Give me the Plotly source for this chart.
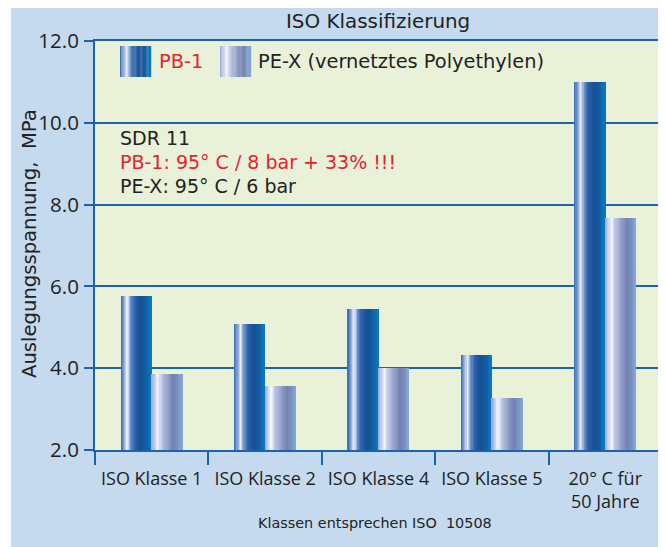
import plotly.graph_objects as go

# ---------------- data ----------------
categories = ["ISO Klasse 1", "ISO Klasse 2", "ISO Klasse 4", "ISO Klasse 5", "20° C für<br>50 Jahre"]
pb1_values = [5.77, 5.08, 5.45, 4.32, 11.0]
pex_values = [3.86, 3.57, 4.00, 3.27, 7.68]
series_names = ["PB-1", "PE-X (vernetztes Polyethylen)"]
info_lines = ["SDR 11", "PB-1: 95° C / 8 bar + 33% !!!", "PE-X: 95° C / 6 bar"]
y_ticks = [2, 4, 6, 8, 10, 12]

# ---------------- styles ----------------
FONT = "DejaVu Sans"
TICKFONT = "Open Sans"
TXT = "#222222"
RED = "#e4222e"
AXC = "#1d62ad"
PAPER = "#c5daee"
PLOT = "#e9f2d8"

PB_STOPS = [(0.0, "#2f68b4"), (0.12, "#8fa8d8"), (0.22, "#eef2fa"), (0.32, "#6f93cc"),
            (0.45, "#2c63ad"), (0.65, "#164f93"), (0.85, "#1260a6"), (1.0, "#0a7cc0")]
PE_STOPS = [(0.0, "#98a6d6"), (0.12, "#c9d0ec"), (0.22, "#f6f8fd"), (0.32, "#c2cae6"),
            (0.5, "#9aa6d0"), (0.72, "#7382b2"), (0.88, "#7a92c2"), (1.0, "#86aad6")]


def hex2rgb(h):
    h = h.lstrip("#")
    return tuple(int(h[i:i + 2], 16) for i in (0, 2, 4))


def grad(stops, t):
    for (p0, c0), (p1, c1) in zip(stops[:-1], stops[1:]):
        if p0 <= t <= p1:
            f = (t - p0) / (p1 - p0) if p1 > p0 else 0
            a, b = hex2rgb(c0), hex2rgb(c1)
            return "rgb(%d,%d,%d)" % tuple(round(a[k] + (b[k] - a[k]) * f) for k in range(3))
    return stops[-1][1]


# page has an 8px body margin; figure fills the rest of the window
OFF = 8
W, H = 666 - OFF, 547 - OFF
# plot area in screenshot pixels
Ls, Rs, Ts, Bs = 95, 662, 41, 450


def fx(px):
    return (px - Ls) / (Rs - Ls)


def fy(py):
    return (Bs - py) / (Bs - Ts)


N = 26
BW = 0.27
fig = go.Figure()
for vals, stops, off0 in [(pb1_values, PB_STOPS, -BW), (pex_values, PE_STOPS, 0.0)]:
    for i in range(N):
        t = (i + 0.5) / N
        fig.add_trace(go.Bar(
            x=categories, y=vals,
            width=[BW / N * 1.15] * len(categories),
            offset=[off0 + i * BW / N] * len(categories),
            marker=dict(color=grad(stops, t), line=dict(width=0)),
            showlegend=False, hoverinfo="skip",
        ))

shapes = []
# thin white strip on the left
shapes.append(dict(type="rect", xref="paper", yref="paper", x0=fx(0), x1=fx(11), y0=fy(560), y1=fy(-5),
                   fillcolor="white", line=dict(width=0), layer="above"))
# legend swatches
for stops, sx in [(PB_STOPS, 120), (PE_STOPS, 220)]:
    sw = 31
    for i in range(N):
        t = (i + 0.5) / N
        x0 = sx + i * sw / N
        shapes.append(dict(type="rect", xref="paper", yref="paper",
                           x0=fx(x0), x1=fx(x0 + sw / N * 1.15), y0=fy(77), y1=fy(46),
                           fillcolor=grad(stops, t), line=dict(width=0), layer="above"))

ann = []
ann.append(dict(text="ISO Klassifizierung", x=fx(378), y=fy(8.5), xref="paper", yref="paper",
                showarrow=False, font=dict(size=19.9, color=TXT, family=FONT), xanchor="center", yanchor="top"))
ann.append(dict(text=series_names[0], x=fx(157), y=fy(62), xref="paper", yref="paper",
                showarrow=False, font=dict(size=19.4, color=RED, family=FONT), xanchor="left", yanchor="middle"))
ann.append(dict(text=series_names[1], x=fx(256), y=fy(62), xref="paper", yref="paper",
                showarrow=False, font=dict(size=19.4, color=TXT, family=FONT), xanchor="left", yanchor="middle"))
for txt, col, py in zip(info_lines, [TXT, RED, TXT], [138, 162, 186]):
    ann.append(dict(text=txt, x=fx(118), y=fy(py), xref="paper", yref="paper",
                    showarrow=False, font=dict(size=19, color=col, family=FONT), xanchor="left", yanchor="middle"))
ann.append(dict(text="Auslegungsspannung,  MPa", x=fx(29), y=fy(244), xref="paper", yref="paper",
                textangle=-90, showarrow=False, font=dict(size=19.6, color=TXT, family=FONT),
                xanchor="center", yanchor="middle"))
ann.append(dict(text="Klassen entsprechen ISO  10508", x=fx(375), y=fy(523), xref="paper", yref="paper",
                showarrow=False, font=dict(size=14.4, color=TXT, family=FONT), xanchor="center", yanchor="middle"))

fig.update_layout(
    width=W, height=H,
    margin=dict(l=Ls - OFF, r=W - (Rs - OFF), t=Ts - OFF, b=H - (Bs - OFF), pad=0),
    paper_bgcolor=PAPER, plot_bgcolor=PLOT,
    barmode="overlay", bargap=0,
    showlegend=False,
    shapes=shapes, annotations=ann,
    font=dict(family=FONT, color=TXT),
    xaxis=dict(type="category", showline=True, linecolor=AXC, linewidth=2, mirror=True,
               ticks="outside", tickson="boundaries", ticklen=13, tickwidth=1.5, tickcolor=AXC,
               ticklabelstandoff=11,
               showgrid=False, tickfont=dict(size=18, color=TXT, family=TICKFONT), fixedrange=True),
    yaxis=dict(range=[2, 12], tickvals=y_ticks, tickformat=".1f", showline=True, linecolor=AXC, linewidth=2,
               ticks="outside", ticklen=9, tickwidth=1.5, tickcolor=AXC, ticklabelstandoff=1,
               showgrid=True, gridcolor=AXC, gridwidth=1.5, zeroline=False,
               tickfont=dict(size=20.5, color=TXT, family=TICKFONT), fixedrange=True),
)

fig.write_html("out.html")
